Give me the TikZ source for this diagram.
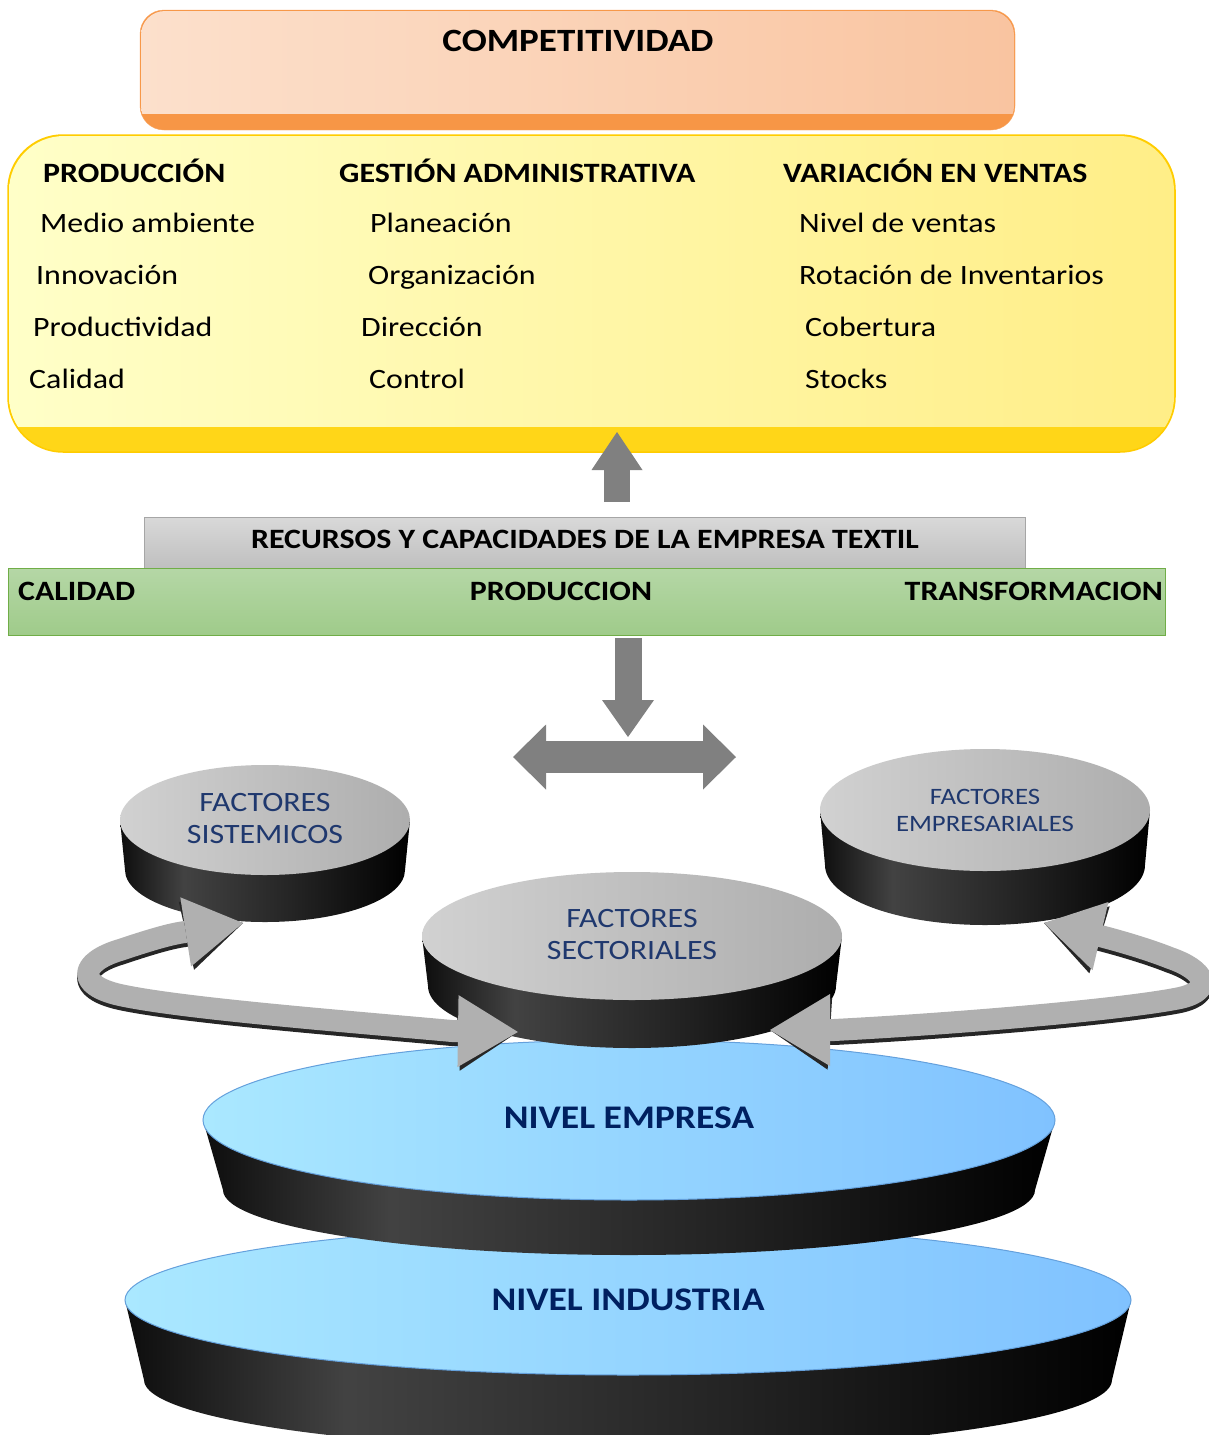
\documentclass[tikz,border=0pt]{standalone}
\usepackage{fontspec}
\setmainfont{Carlito}[FakeStretch=1.14]
\usetikzlibrary{arrows.meta,positioning}

\definecolor{naranjaCara}{RGB}{252,224,204}
\definecolor{naranjaCara2}{RGB}{249,196,160}
\definecolor{naranjaBanda}{RGB}{247,150,70}
\definecolor{amarilloCara}{RGB}{255,255,200}
\definecolor{amarilloCara2}{RGB}{255,238,135}
\definecolor{amarilloBanda}{RGB}{255,214,24}
\definecolor{amarilloBorde}{RGB}{255,204,0}
\definecolor{grisCaja}{RGB}{217,217,217}
\definecolor{grisCaja2}{RGB}{191,191,191}
\definecolor{verdeCaja}{RGB}{181,215,166}
\definecolor{verdeCaja2}{RGB}{159,203,138}
\definecolor{verdeBorde}{RGB}{112,173,71}
\definecolor{flechaGris}{RGB}{128,128,128}
\definecolor{curvaGris}{RGB}{176,176,176}
\definecolor{azulA}{RGB}{170,232,255}
\definecolor{azulB}{RGB}{128,194,255}
\definecolor{azulBorde}{RGB}{100,160,220}
\definecolor{textoAzul}{RGB}{31,56,110}
\definecolor{nivelAzul}{RGB}{0,32,96}

\pgfdeclarehorizontalshading{ladodisco}{100bp}{color(0bp)=(black!95); color(25bp)=(black!95); color(36bp)=(black!74); color(55bp)=(black!86); color(75bp)=(black); color(100bp)=(black)}

% disco: cx, cy, rx, ry, alto, rx abajo, ry abajo, estilo tapa
\newcommand{\disco}[8]{%
  \shade[shading=ladodisco] ({#1-#3},#2) -- ({#1-#6},{#2+#5}) arc[start angle=180,end angle=0,x radius=#6,y radius=#7] -- ({#1+#3},#2) -- cycle;
  \path[#8] (#1,#2) ellipse[x radius=#3,y radius=#4];
}

\tikzset{
  cabecera/.style={font=\fontsize{28}{30}\selectfont\bfseries, anchor=base west, inner sep=0},
  elemento/.style={font=\fontsize{28}{30}\selectfont, anchor=base west, inner sep=0},
  franja/.style={font=\fontsize{28}{32}\selectfont\bfseries, inner sep=0},
  textodisco/.style={font=\fontsize{28}{32}\selectfont, text=textoAzul, align=center, inner sep=0},
  textonivel/.style={font=\fontsize{33}{36}\selectfont\bfseries, text=nivelAzul, inner sep=0},
  caradisco/.style={left color=black!18, right color=black!32},
  azultapa/.style={left color=azulA, right color=azulB, draw=azulBorde, line width=1pt},
  flechabloque/.style={draw=flechaGris, line width=26pt, -{Triangle[length=38pt,width=51pt,line width=0pt]}},
  curvaflecha/.style={draw=curvaGris, line width=22pt, line join=round,
    {Triangle[length=60pt,width=72pt,line width=0pt]}-{Triangle[length=58pt,width=70pt,line width=0pt]}},
  curvasombra/.style={curvaflecha, draw=black!85, shift={(0,4)}}
}

\begin{document}
\begin{tikzpicture}[x=1pt,y=-1pt]
  \useasboundingbox (0,0) rectangle (1208,1435);
  \fill[white] (0,0) rectangle (1208,1435);

  % competitividad
  \fill[naranjaBanda, rounded corners=24] (140,10) rectangle (1015,130);
  \begin{scope}
    \clip (0,0) rectangle (1208,113);
    \shade[left color=naranjaCara, right color=naranjaCara2, rounded corners=24] (141,11) rectangle (1014,130);
  \end{scope}
  \draw[naranjaBanda!85, rounded corners=24] (140,10) rectangle (1015,130);
  \node[franja, font=\fontsize{32.5}{36}\selectfont\bfseries, anchor=base] (compet) at (578,51) {COMPETITIVIDAD};

  % caja amarilla
  \fill[amarilloBanda, rounded corners=55] (8,135) rectangle (1175,452);
  \begin{scope}
    \clip (0,0) rectangle (1208,426);
    \shade[left color=amarilloCara, right color=amarilloCara2, rounded corners=55] (9,136) rectangle (1174,452);
  \end{scope}
  \draw[amarilloBorde, line width=1.5pt, rounded corners=55] (8,135) rectangle (1175,452);

  \node[cabecera] (prod) at (43,182) {PRODUCCIÓN};
  \node[cabecera] (gest) at (339,182) {GESTIÓN ADMINISTRATIVA};
  \node[cabecera] (vari) at (783,182) {VARIACIÓN EN VENTAS};
  \node[elemento] (medio) at (40,232) {Medio ambiente};
  \node[elemento] (innov) at (36,284) {Innovación};
  \node[elemento] (produc) at (33,336) {Productividad};
  \node[elemento] (calid) at (29,388) {Calidad};
  \node[elemento] (plan) at (370,232) {Planeación};
  \node[elemento] (organ) at (368,284) {Organización};
  \node[elemento] (direc) at (361,336) {Dirección};
  \node[elemento] (contr) at (369,388) {Control};
  \node[elemento] (nivelv) at (799,232) {Nivel de ventas};
  \node[elemento] (rotac) at (799,284) {Rotación de Inventarios};
  \node[elemento] (cober) at (805,336) {Cobertura};
  \node[elemento] (stocks) at (805,388) {Stocks};

  % recursos y capacidades
  \node[draw=black!35, top color=grisCaja, bottom color=grisCaja2, minimum width=881pt, minimum height=51pt, inner sep=0] (recursos) at (584.5,542.5) {};
  \node[franja, anchor=base] (recursosTxt) at (585,548) {RECURSOS Y CAPACIDADES DE LA EMPRESA TEXTIL};
  \node[draw=verdeBorde, top color=verdeCaja, bottom color=verdeCaja2, minimum width=1157pt, minimum height=67pt, inner sep=0] (verde) at (586.5,601.5) {};
  \node[franja, anchor=base west] (calidad) at (18,600) {CALIDAD};
  \node[franja, anchor=base] (produccion) at (561,600) {PRODUCCION};
  \node[franja, anchor=base east] (transf) at (1163,600) {TRANSFORMACION};

  \coordinate (arribaBase) at (617,502);
  \coordinate (arribaPunta) at (617,432);
  \coordinate (abajoBase) at (628,638);
  \coordinate (abajoPunta) at (628,737);
  \coordinate (izqPunta) at (513,757);
  \coordinate (derPunta) at (736,757);

  % niveles
  \disco{628}{1300}{503}{75}{80}{484}{70}{azultapa}
  \node[textonivel] (industria) at (628,1300) {NIVEL INDUSTRIA};
  \disco{629}{1120}{426}{80}{70}{406}{65}{azultapa}
  \node[textonivel] (empresa) at (629,1118) {NIVEL EMPRESA};

  % factores
  \disco{985}{810}{165}{61}{55}{160}{60}{caradisco}
  \node[textodisco, font=\fontsize{23.5}{27}\selectfont] (empresariales) at (985,810.5) {FACTORES\\EMPRESARIALES};
  \disco{632}{936}{210}{64}{50}{204}{62}{caradisco}
  \node[textodisco] (sectoriales) at (632,934) {FACTORES\\SECTORIALES};
  \disco{265}{820}{145}{55}{50}{140}{52}{caradisco}
  \node[textodisco] (sistemicos) at (265,818) {FACTORES\\SISTEMICOS};

  % flechas
  \draw[flechabloque] (arribaBase) -- (arribaPunta);
  \draw[flechabloque, line width=27pt, -{Triangle[length=37pt,width=52pt,line width=0pt]}] (abajoBase) -- (abajoPunta);
  \draw[draw=flechaGris, line width=32pt, {Triangle[length=33pt,width=65pt,line width=0pt]}-{Triangle[length=33pt,width=65pt,line width=0pt]}] (izqPunta) -- (derPunta);

  \coordinate (sectIzq) at (518,1032);
  \coordinate (sistPunta) at (243,923);
  \coordinate (sectDer) at (770,1030);
  \coordinate (empPunta) at (1044,923);
  \foreach \estilo in {curvasombra,curvaflecha}{
    \draw[\estilo] (sectIzq) -- (452,1031) .. controls (330,1020) and (180,1008) .. (120,995)
      .. controls (75,985) and (80,962) .. (120,950) .. controls (150,940) and (170,934) .. (185,932) -- (sistPunta);
    \draw[\estilo] (sectDer) -- (834,1030) .. controls (950,1024) and (1120,1010) .. (1180,998)
      .. controls (1215,990) and (1205,970) .. (1170,958) .. controls (1150,950) and (1120,941) .. (1100,936) -- (empPunta);
  }
\end{tikzpicture}
\end{document}
